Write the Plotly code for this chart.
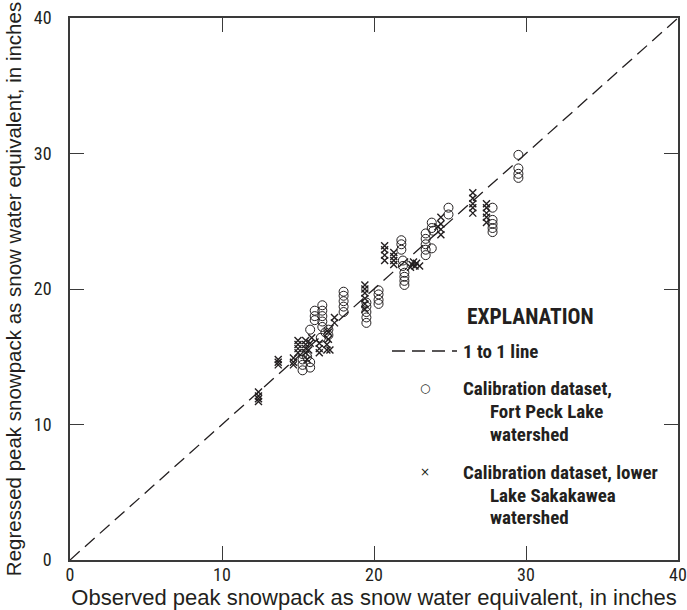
import plotly.graph_objects as go

# Fort Peck Lake watershed calibration dataset (circles)
fp_obs = [15.3, 15.3, 15.3, 15.3, 15.8, 15.8, 15.6,
          15.8, 16.1, 16.1, 16.1,
          16.6, 16.6, 16.6, 16.6, 16.6,
          16.8, 16.5, 17.0, 17.0,
          18.0, 18.0, 18.0, 18.0, 18.0,
          19.5, 19.5, 19.5, 19.5, 19.5,
          20.3, 20.3, 20.3, 20.3,
          21.8, 21.8, 21.8, 21.9, 21.9,
          22.0, 22.0, 22.0, 22.0,
          23.4, 23.4, 23.4, 23.4, 23.4, 23.9, 23.8, 23.8, 23.8,
          24.9, 24.9,
          27.8, 27.8, 27.8, 27.8, 27.8,
          29.5, 29.5, 29.5, 29.5]
fp_reg = [14.0, 14.4, 14.8, 15.2, 14.2, 14.6, 15.0,
          17.0, 17.7, 18.0, 18.4,
          17.2, 17.6, 18.0, 18.4, 18.8,
          16.8, 16.4, 16.6, 17.0,
          18.3, 18.7, 19.1, 19.5, 19.8,
          17.5, 17.9, 18.3, 18.7, 19.0,
          18.9, 19.2, 19.6, 19.9,
          22.9, 23.3, 23.6, 21.7, 22.1,
          20.3, 20.6, 20.9, 21.2,
          22.5, 22.9, 23.3, 23.7, 24.1, 24.3, 24.9, 24.5, 23.0,
          25.5, 26.0,
          24.2, 24.5, 24.8, 25.1, 26.0,
          28.2, 28.5, 28.9, 29.9]

# Lower Lake Sakakawea watershed calibration dataset (crosses)
ls_obs = [12.4, 12.4, 12.4, 12.4,
          13.7, 13.7, 13.7,
          14.7, 14.7, 14.7,
          15.0, 15.0, 15.0, 15.0,
          15.5, 15.5, 15.5, 15.5, 15.7, 15.8, 15.9, 15.6,
          16.4, 16.4, 16.4,
          16.9, 16.9, 17.0, 17.0, 17.1,
          17.4, 17.4,
          19.4, 19.4, 19.4, 19.4, 19.4, 19.4,
          20.7, 20.7, 20.7, 20.7,
          21.3, 21.3, 21.3, 21.3,
          22.4, 22.5, 22.7, 22.8, 23.0, 22.6,
          24.4, 24.4, 24.4, 24.4, 24.2,
          26.5, 26.5, 26.5, 26.5, 26.5,
          27.4, 27.4, 27.4, 27.4, 27.4]
ls_reg = [11.7, 11.9, 12.1, 12.4,
          14.4, 14.6, 14.8,
          14.4, 14.6, 14.9,
          15.3, 15.6, 15.9, 16.2,
          15.3, 15.6, 15.9, 16.2, 15.5, 16.0, 16.4, 14.8,
          15.3, 15.6, 16.0,
          15.5, 15.9, 16.3, 16.8, 15.5,
          17.5, 17.9,
          18.5, 18.9, 19.3, 19.7, 20.0, 20.3,
          22.1, 22.5, 22.9, 23.2,
          21.8, 22.1, 22.4, 22.7,
          21.6, 21.8, 21.7, 21.9, 21.7, 22.0,
          24.0, 24.4, 24.8, 25.3, 24.6,
          25.6, 26.0, 26.3, 26.7, 27.1,
          24.9, 25.3, 25.6, 26.0, 26.3]

one_to_one = [0, 40]
tick_vals = [0, 10, 20, 30, 40]
tick_text = ["0", "10", "20", "30", "40"]

NARROW = "Roboto Condensed, Liberation Sans Narrow, Arial Narrow, sans-serif"
WIDE = "Liberation Sans, Arial, sans-serif"
INK = "#231f20"

fig = go.Figure()
fig.add_trace(go.Scatter(x=one_to_one, y=one_to_one, mode="lines",
                         line=dict(color=INK, width=1.3, dash="13px,7px"),
                         showlegend=False, hoverinfo="skip"))
fig.add_trace(go.Scatter(x=fp_obs, y=fp_reg, mode="markers",
                         marker=dict(symbol="circle-open", size=9, color=INK,
                                     line=dict(width=1, color=INK)),
                         showlegend=False))
fig.add_trace(go.Scatter(x=ls_obs, y=ls_reg, mode="markers",
                         marker=dict(symbol="x-thin-open", size=7, color=INK,
                                     line=dict(width=1.4, color=INK)),
                         showlegend=False))

W, H = 687, 610
L, R, T, B = 70, 9, 18, 50
pw, ph = W - L - R, H - T - B

def px(x):
    return (x - L) / pw

def py(y):
    return (H - B - y) / ph

axis_common = dict(range=[0, 40], tickvals=tick_vals, ticktext=tick_text,
                   showgrid=False, zeroline=False, showline=True, automargin=False,
                   linecolor="#3a3a3a", linewidth=1.5, mirror="allticks",
                   ticks="inside", ticklen=14, tickwidth=1.2, tickcolor="#3a3a3a",
                   ticklabeloverflow="allow",
                   tickfont=dict(family=NARROW, size=18, color=INK))

fig.update_layout(
    width=W, height=H,
    margin=dict(l=L, r=R, t=T, b=B),
    paper_bgcolor="white", plot_bgcolor="white",
    xaxis=dict(**axis_common,
               title=dict(text="Observed peak snowpack as snow water equivalent, in inches",
                          font=dict(family=WIDE, size=22, color=INK), standoff=3),
               ticklabelstandoff=-2),
    yaxis=dict(**axis_common,
               title=dict(text="Regressed peak snowpack as snow water equivalent, in inches",
                          font=dict(family=WIDE, size=20.5, color=INK), standoff=7),
               ticklabelstandoff=13),
    showlegend=False,
)

# Explanation (legend)
fig.add_shape(type="line", xref="paper", yref="paper",
              x0=px(392), x1=px(457), y0=py(351), y1=py(351),
              line=dict(color=INK, width=1.3, dash="13px,7px"))

def note(text, x, y, size=19, bold=True):
    fig.add_annotation(xref="paper", yref="paper", x=px(x), y=py(y),
                       xanchor="left", yanchor="middle", showarrow=False,
                       text=f"<b>{text}</b>" if bold else text,
                       font=dict(family=NARROW, size=size, color=INK))

note("EXPLANATION", 465, 316, size=21.5)
note("1 to 1 line", 461, 351)
fig.add_annotation(xref="paper", yref="paper", x=px(425), y=py(388),
                   xanchor="center", yanchor="middle", showarrow=False,
                   text="○", font=dict(family="DejaVu Sans", size=12, color=INK))
note("Calibration dataset,", 461, 388)
note("Fort Peck Lake", 488, 411)
note("watershed", 488, 434)
fig.add_annotation(xref="paper", yref="paper", x=px(425), y=py(472),
                   xanchor="center", yanchor="middle", showarrow=False,
                   text="×", font=dict(family="DejaVu Sans", size=12, color=INK))
note("Calibration dataset, lower", 461, 472)
note("Lake Sakakawea", 488, 495)
note("watershed", 488, 517)

fig.write_html("out.html", config={"displayModeBar": False},
               post_script="document.body.style.margin='0';document.body.style.overflow='hidden';")
